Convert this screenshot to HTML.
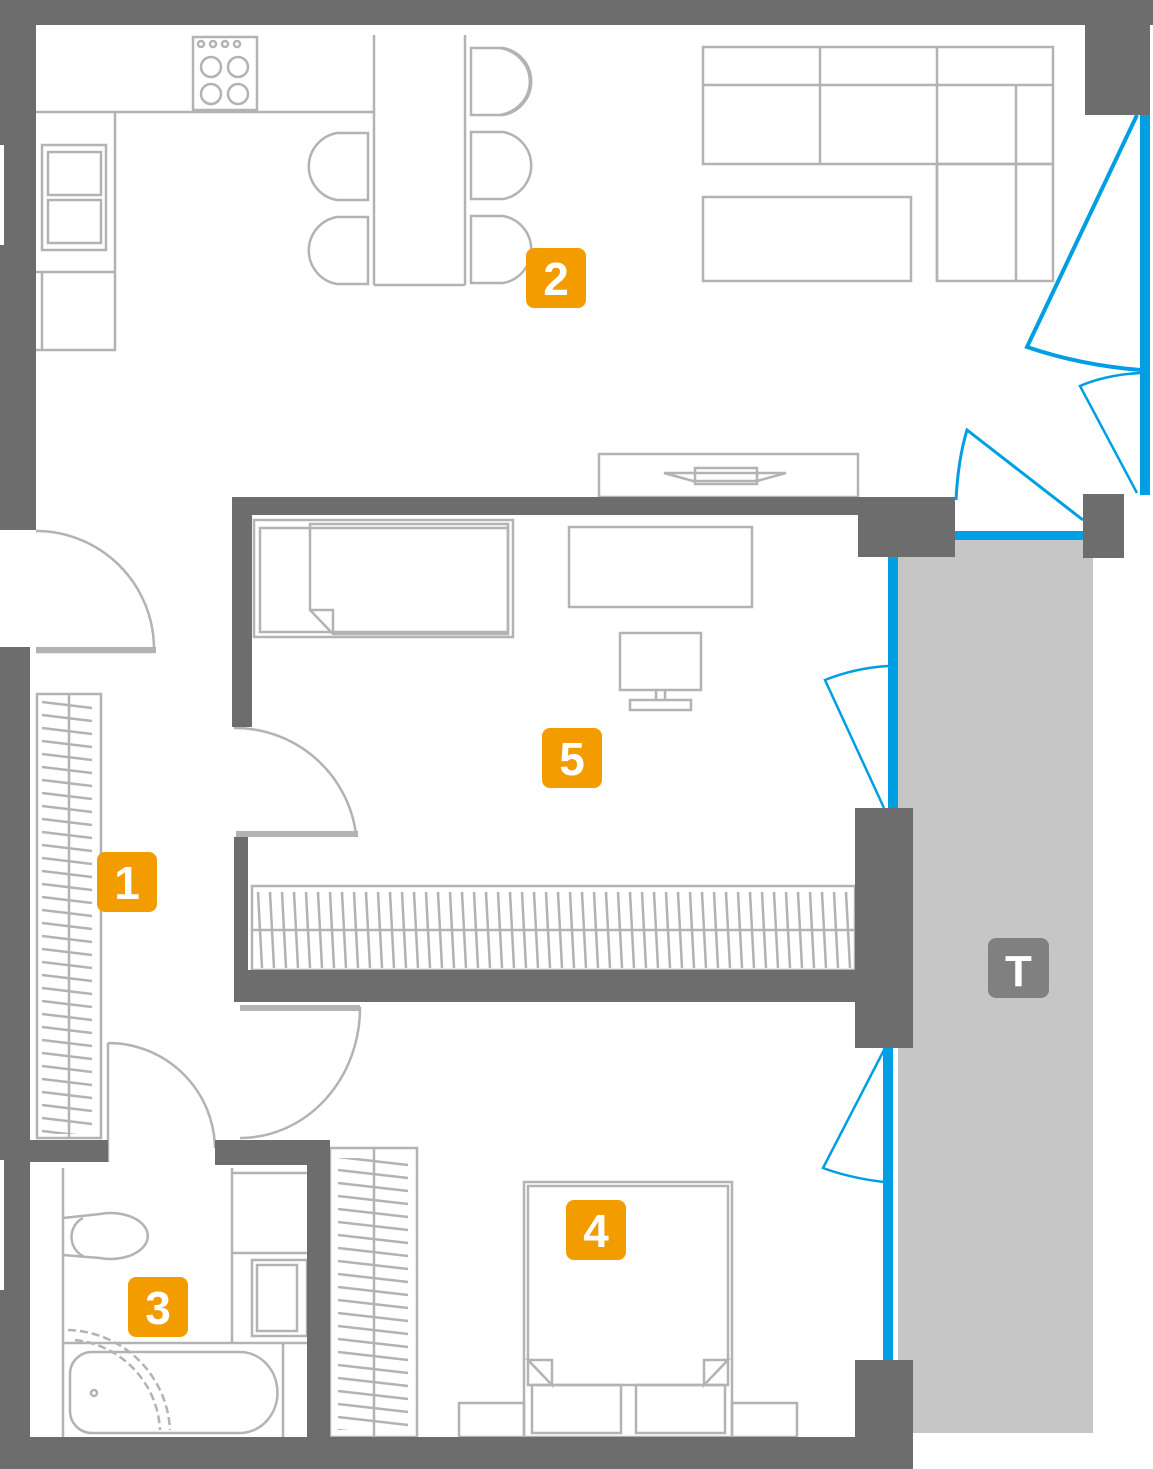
<!DOCTYPE html>
<html><head><meta charset="utf-8"><style>
html,body{margin:0;padding:0;background:#fff;}
svg{display:block;}
text{font-family:"Liberation Sans",sans-serif;font-weight:bold;fill:#fff;}
</style></head><body>
<svg width="1153" height="1469" viewBox="0 0 1153 1469" xmlns="http://www.w3.org/2000/svg">
<defs>
<pattern id="wl" x="42" y="700" width="200" height="13" patternUnits="userSpaceOnUse">
<line x1="0" y1="2" x2="50" y2="8" stroke="#b3b3b3" stroke-width="2.5"/>
</pattern>
<pattern id="wv" x="255" y="890" width="12" height="200" patternUnits="userSpaceOnUse">
<line x1="3" y1="2" x2="7" y2="78" stroke="#b3b3b3" stroke-width="2.5"/>
</pattern>
<pattern id="wb" x="338" y="1155" width="200" height="13" patternUnits="userSpaceOnUse">
<line x1="0" y1="2" x2="70" y2="10" stroke="#b3b3b3" stroke-width="2.5"/>
</pattern>
</defs>

<rect x="898" y="540" width="195" height="893" fill="#c6c6c6"/>
<rect x="988" y="938" width="61" height="60" rx="8" fill="#808080"/>
<text x="1018.5" y="986" font-size="44" text-anchor="middle">T</text>

<g fill="none" stroke="#b3b3b3" stroke-width="2.5">
<rect x="193" y="37" width="64" height="73"/>
<circle cx="211" cy="67" r="10"/><circle cx="238" cy="67" r="10"/>
<circle cx="211" cy="94" r="10"/><circle cx="238" cy="94" r="10"/>
<circle cx="201" cy="44" r="3"/><circle cx="213" cy="44" r="3"/><circle cx="225" cy="44" r="3"/><circle cx="237" cy="44" r="3"/>
<polyline points="36,112 374,112"/>
<polyline points="115,112 115,350 36,350"/>
<rect x="42" y="145" width="64" height="105"/>
<rect x="48" y="152" width="53" height="43"/><rect x="48" y="200" width="53" height="43"/>
<line x1="36" y1="272" x2="115" y2="272"/><line x1="42" y1="272" x2="42" y2="350"/>
<line x1="374" y1="35" x2="374" y2="285"/><line x1="465" y1="35" x2="465" y2="285"/>
<line x1="374" y1="285" x2="465" y2="285"/>
<path d="M471,48 H503 A34,34 0 0 1 503,115 H471 Z"/>
<path d="M500,48 A36,34 0 0 1 500,115"/>
<path d="M471,132 H503 A34,34 0 0 1 503,199 H471 Z"/>
<path d="M471,216 H503 A34,34 0 0 1 503,283 H471 Z"/>
<path d="M368,133 H337 A34,34 0 0 0 337,200 H368 Z"/>
<path d="M368,217 H337 A34,34 0 0 0 337,284 H368 Z"/>
<rect x="703" y="47" width="350" height="117"/>
<line x1="703" y1="85" x2="1053" y2="85"/>
<line x1="820" y1="47" x2="820" y2="164"/><line x1="937" y1="47" x2="937" y2="281"/>
<line x1="1016" y1="85" x2="1016" y2="281"/>
<rect x="937" y="164" width="116" height="117"/>
<rect x="703" y="197" width="208" height="84"/>
<rect x="599" y="454" width="259" height="43"/>
<path d="M664,473 H786 L757,481 H693 Z M695,468 H757 V484 H695 Z"/>
<rect x="254" y="520" width="259" height="117"/>
<rect x="260" y="528" width="248" height="104"/>
<path d="M310,524 H508 V634 H333 L310,610 Z"/>
<path d="M310,610 H333 V634"/>
<rect x="569" y="527" width="183" height="80"/>
<rect x="620" y="633" width="81" height="57"/>
<line x1="656" y1="690" x2="656" y2="700"/><line x1="665" y1="690" x2="665" y2="700"/>
<rect x="630" y="700" width="61" height="10"/>
<rect x="252" y="886" width="603" height="84"/>
<line x1="252" y1="930" x2="855" y2="930"/>
<rect x="254" y="888" width="599" height="80" fill="url(#wv)" stroke="none"/>
<rect x="37" y="694" width="64" height="444"/>
<line x1="69" y1="694" x2="69" y2="1138"/>
<rect x="40" y="698" width="58" height="436" fill="url(#wl)" stroke="none"/>
<rect x="330" y="1148" width="87" height="289"/>
<line x1="374" y1="1148" x2="374" y2="1437"/>
<rect x="334" y="1158" width="78" height="272" fill="url(#wb)" stroke="none"/>
<rect x="524" y="1182" width="208" height="255"/>
<rect x="528" y="1186" width="200" height="199"/>
<path d="M528,1360 L552,1385 V1360 Z M728,1360 L704,1385 V1360 Z"/>
<rect x="532" y="1385" width="89" height="48"/><rect x="636" y="1385" width="89" height="48"/>
<rect x="459" y="1403" width="65" height="34"/><rect x="732" y="1403" width="65" height="34"/>
<line x1="63" y1="1168" x2="63" y2="1437"/>
<path d="M63,1218 L100,1214 A37,23 0 1 1 100,1258 L63,1255"/>
<path d="M83,1218 A20,21 0 0 0 83,1256"/>
<line x1="63" y1="1343" x2="307" y2="1343"/>
<line x1="283" y1="1343" x2="283" y2="1437"/>
<path d="M92,1352 H240 A37,40 0 0 1 240,1433 H92 A22,22 0 0 1 70,1411 V1374 A22,22 0 0 1 92,1352 Z"/>
<path d="M68,1330 A105,105 0 0 1 170,1430" stroke-dasharray="8,4"/>
<path d="M75,1340 A95,95 0 0 1 160,1430" stroke-dasharray="8,4"/>
<circle cx="94" cy="1393" r="3"/>
<line x1="232" y1="1168" x2="232" y2="1343"/>
<line x1="232" y1="1173" x2="307" y2="1173"/>
<line x1="232" y1="1253" x2="307" y2="1253"/>
<rect x="252" y="1260" width="55" height="76"/><rect x="257" y="1265" width="40" height="66"/>
<path d="M36,531 A118,118 0 0 1 154,649 V652 H36"/>
<path d="M234,728 A122,122 0 0 1 356,834 H236"/>
<path d="M240,1008 H360 A120,130 0 0 1 240,1138"/>
<path d="M108,1043 A107,107 0 0 1 215,1148 M108,1043 V1162"/>
</g>
<g fill="#b3b3b3">
<rect x="36" y="647" width="120" height="6"/>
<rect x="236" y="831" width="122" height="6"/>
<rect x="240" y="1005" width="120" height="6"/>
</g>

<g fill="#6d6d6d">
<rect x="0" y="0" width="1153" height="25"/>
<rect x="1085" y="0" width="65" height="115"/>
<rect x="0" y="0" width="36" height="530"/>
<rect x="0" y="647" width="30" height="822"/>
<rect x="0" y="1437" width="913" height="32"/>
<rect x="232" y="497" width="723" height="18"/>
<rect x="858" y="497" width="97" height="60"/>
<rect x="232" y="497" width="20" height="230"/>
<rect x="234" y="837" width="14" height="165"/>
<rect x="234" y="970" width="679" height="32"/>
<rect x="855" y="808" width="58" height="240"/>
<rect x="855" y="1360" width="58" height="109"/>
<rect x="1083" y="494" width="41" height="64"/>
<rect x="30" y="1140" width="78" height="22"/>
<rect x="215" y="1140" width="115" height="25"/>
<rect x="307" y="1140" width="23" height="297"/>
</g>
<rect x="0" y="145" width="4" height="100" fill="#fff"/>
<rect x="0" y="1160" width="4" height="130" fill="#fff"/>

<g fill="#009fe3">
<rect x="1140" y="115" width="10" height="380"/>
<rect x="955" y="531" width="128" height="9"/>
<rect x="888" y="557" width="10" height="251"/>
<rect x="883" y="1048" width="10" height="312"/>
</g>
<g fill="none" stroke="#009fe3">
<path d="M1137,115 L1027,347 Q1080,365 1140,370" stroke-width="4"/>
<path d="M1140,373 Q1105,375 1080,386 L1137,493" stroke-width="2.5"/>
<path d="M1083,520 L967,430 Q958,460 956,500" stroke-width="3"/>
<path d="M888,666 Q855,668 825,680 L884,808" stroke-width="2.5"/>
<path d="M884,1050 L823,1168 Q850,1178 884,1182" stroke-width="2.5"/>
</g>

<g fill="#f39c00">
<rect x="526" y="248" width="60" height="60" rx="8"/>
<rect x="542" y="728" width="60" height="60" rx="8"/>
<rect x="97" y="852" width="60" height="60" rx="8"/>
<rect x="128" y="1277" width="60" height="60" rx="8"/>
<rect x="566" y="1200" width="60" height="60" rx="8"/>
</g>
<g font-size="46" text-anchor="middle">
<text x="556" y="295">2</text>
<text x="572" y="775">5</text>
<text x="127" y="899">1</text>
<text x="158" y="1324">3</text>
<text x="596" y="1247">4</text>
</g>
</svg>
</body></html>
